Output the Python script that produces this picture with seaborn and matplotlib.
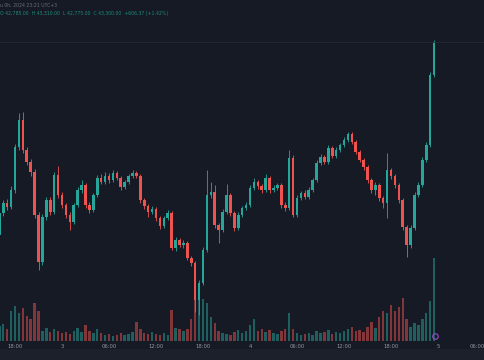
import numpy as np
import pandas as pd
import matplotlib
matplotlib.use("Agg")
import matplotlib.pyplot as plt
import matplotlib.patches as mpatches
import seaborn as sns

# ---- data (30-min candles, hours since day-2 00:00) ----
start_hour = 16.0
step_hour = 0.5

opens = [42335, 42445, 42495, 42475, 42560, 42775, 42910, 42760, 42700, 42650,
         42435, 42200, 42425, 42510, 42450, 42635, 42535, 42485, 42435, 42400,
         42485, 42560, 42585, 42485, 42460, 42535, 42620, 42600, 42630, 42610,
         42645, 42620, 42575, 42600, 42630, 42645, 42630, 42510, 42480, 42450,
         42465, 42420, 42380, 42420, 42445, 42270, 42310, 42285, 42295, 42220,
         42195, 42010, 42095, 42260, 42535, 42550, 42385, 42360, 42450, 42535,
         42445, 42370, 42435, 42470, 42485, 42570, 42600, 42580, 42560, 42620,
         42560, 42570, 42585, 42485, 42470, 42720, 42435, 42520, 42545, 42525,
         42560, 42610, 42695, 42725, 42700, 42770, 42730, 42760, 42785, 42810,
         42840, 42800, 42750, 42710, 42675, 42610, 42560, 42585, 42520, 42495,
         42660, 42630, 42585, 42510, 42375, 42285, 42370, 42535, 42585, 42710,
         42785, 43135]
closes = [42445, 42495, 42475, 42560, 42775, 42910, 42760, 42700, 42650, 42435,
          42200, 42425, 42510, 42450, 42635, 42535, 42485, 42435, 42400, 42485,
          42560, 42585, 42485, 42460, 42535, 42620, 42600, 42630, 42610, 42645,
          42620, 42575, 42600, 42630, 42645, 42630, 42510, 42480, 42450, 42465,
          42420, 42380, 42420, 42445, 42270, 42310, 42285, 42295, 42220, 42195,
          42010, 42095, 42260, 42535, 42550, 42385, 42360, 42450, 42535, 42445,
          42370, 42435, 42470, 42485, 42570, 42600, 42580, 42560, 42620, 42560,
          42570, 42585, 42485, 42470, 42720, 42435, 42520, 42545, 42525, 42560,
          42610, 42695, 42725, 42700, 42770, 42730, 42760, 42785, 42810, 42840,
          42800, 42750, 42710, 42675, 42610, 42560, 42585, 42520, 42495, 42660,
          42630, 42585, 42510, 42375, 42285, 42370, 42535, 42585, 42710, 42785,
          43135, 43300]
highs = [42460, 42510, 42515, 42580, 42790, 42945, 42950, 42775, 42715, 42665,
         42450, 42440, 42525, 42525, 42650, 42680, 42550, 42495, 42450, 42495,
         42575, 42610, 42595, 42500, 42545, 42635, 42640, 42650, 42645, 42660,
         42655, 42630, 42610, 42640, 42660, 42655, 42640, 42520, 42490, 42480,
         42475, 42430, 42430, 42460, 42455, 42325, 42320, 42310, 42305, 42230,
         42205, 42110, 42275, 42660, 42600, 42585, 42395, 42465, 42590, 42545,
         42455, 42450, 42480, 42500, 42585, 42620, 42610, 42590, 42640, 42630,
         42585, 42595, 42595, 42500, 42760, 42735, 42535, 42555, 42560, 42575,
         42620, 42710, 42740, 42735, 42785, 42780, 42775, 42795, 42825, 42850,
         42850, 42810, 42760, 42720, 42685, 42620, 42600, 42595, 42530, 42745,
         42670, 42640, 42595, 42520, 42385, 42385, 42550, 42600, 42725, 42800,
         43150, 43310]
lows = [42320, 42430, 42460, 42465, 42545, 42760, 42745, 42685, 42630, 42420,
        42160, 42185, 42410, 42435, 42440, 42520, 42470, 42420, 42360, 42390,
        42475, 42545, 42470, 42445, 42450, 42525, 42590, 42590, 42595, 42600,
        42610, 42560, 42565, 42590, 42620, 42620, 42495, 42465, 42425, 42440,
        42405, 42365, 42370, 42410, 42260, 42255, 42275, 42270, 42210, 42180,
        41950, 41935, 42085, 42250, 42520, 42370, 42295, 42350, 42440, 42430,
        42355, 42360, 42425, 42460, 42475, 42560, 42565, 42545, 42550, 42545,
        42550, 42560, 42470, 42455, 42460, 42425, 42425, 42510, 42515, 42515,
        42550, 42600, 42685, 42690, 42690, 42720, 42720, 42750, 42775, 42800,
        42790, 42740, 42700, 42660, 42595, 42545, 42535, 42505, 42470, 42420,
        42615, 42570, 42495, 42360, 42225, 42270, 42360, 42525, 42575, 42700,
        42775, 43125]
volumes = [150, 170, 120, 300, 350, 280, 330, 250, 220, 380,
           300, 100, 130, 90, 120, 100, 80, 90, 70, 100,
           130, 90, 160, 100, 80, 120, 80, 60, 70, 50,
           60, 80, 60, 70, 90, 190, 120, 80, 70, 90,
           70, 60, 80, 60, 310, 130, 120, 100, 120, 220,
           520, 480, 420, 380, 240, 180, 100, 80, 70, 60,
           90, 110, 80, 100, 160, 220, 100, 120, 90, 110,
           80, 70, 100, 120, 280, 120, 80, 60, 70, 80,
           60, 100, 80, 90, 110, 70, 90, 80, 100, 120,
           140, 100, 110, 90, 140, 190, 130, 240, 300, 280,
           360, 300, 340, 430, 220, 140, 180, 160, 220, 280,
           400, 830]

tick_hours = [18, 24, 30, 36, 42, 48, 54, 60, 66, 72, 78]
tick_labels = ["18:00", "3", "06:00", "12:00", "18:00", "4", "06:00", "12:00", "18:00", "5", "06:00"]

header_line1 = "u 0h, 2024 23:21 UTC+3"
header_line2 = "O 42,785.00  H 43,310.00  L 42,775.00  C 43,300.00  +606.37 (+1.42%)"

# ---- build table ----
df = pd.DataFrame({"open": opens, "high": highs, "low": lows,
                   "close": closes, "volume": volumes})
df["t"] = start_hour + step_hour * np.arange(len(df))
df["dir"] = np.where(df["close"] >= df["open"], "up", "down")

BG = "#161a25"
UP = "#26a69a"
DOWN = "#ef5350"

sns.set_theme(style="dark", rc={"figure.facecolor": BG, "axes.facecolor": BG,
                                "axes.edgecolor": BG, "text.color": "#b2b5be",
                                "xtick.color": "#b2b5be"})
plt.rcParams["font.family"] = ["DejaVu Sans"]

fig = plt.figure(figsize=(4.85, 3.6), dpi=100)
fig.patch.set_facecolor(BG)

# lighter strip at the very bottom
fig.patches.append(mpatches.Rectangle((0, 0), 1, 11 / 360, transform=fig.transFigure,
                                      facecolor="#1c202b", edgecolor="none", zorder=0))

ax = fig.add_axes([0, 19 / 360, 1, 341 / 360])
ax2 = ax.twinx()
ax.set_zorder(2)
ax2.set_zorder(1)
ax.patch.set_visible(False)
ax2.patch.set_visible(False)

# volume (seaborn)
sns.barplot(data=df, x="t", y="volume", hue="dir", palette={"up": UP, "down": DOWN},
            native_scale=True, dodge=False, width=0.62, errorbar=None, legend=False,
            saturation=1, alpha=0.5, linewidth=0, ax=ax2)
ax2.set_ylim(0, 3410)
ax2.set_yticks([])
ax2.set_ylabel("")

# candles
colors = np.where(df["dir"] == "up", UP, DOWN)
ax.vlines(df["t"], df["low"], df["high"], colors=colors, linewidth=0.6)
body = (df["close"] - df["open"]).to_numpy().astype(float)
body = np.where(np.abs(body) < 3, 3, body)
ax.bar(df["t"], body, bottom=df["open"], width=0.34, color=colors, linewidth=0)

# last price line
ax.axhline(closes[-1], color="#252935", linewidth=0.6)

ax.set_ylim(41805, 43510)
ax.set_yticks([])
for a in (ax, ax2):
    a.set_xlabel("")
    for s in a.spines.values():
        s.set_visible(False)
    a.grid(False)

ax.set_xlim(16.085, 78)
ax.set_xticks(tick_hours)
ax.set_xticklabels(tick_labels, fontsize=3.8, color="#9598a1")
ax.get_xticklabels()[-1].set_horizontalalignment("right")
ax.tick_params(axis="x", length=0, pad=2, labelbottom=True)
ax2.tick_params(axis="x", labelbottom=False, labeltop=False, length=0)

fig.text(0.0, 1 - 5 / 360, header_line1, fontsize=3.3, color="#6b6f7a", va="center", ha="left")
fig.text(0.0, 1 - 13 / 360, header_line2, fontsize=3.3, color="#1f8a7d", va="center", ha="left")

# small "scroll to realtime" marker
fig.lines.append(matplotlib.lines.Line2D([435 / 485], [1 - 336 / 360], transform=fig.transFigure,
                                         marker="o", markersize=4, markerfacecolor="none",
                                         markeredgecolor="#9c4dcc", markeredgewidth=0.8))

fig.savefig("out.png", dpi=100, facecolor=BG)
